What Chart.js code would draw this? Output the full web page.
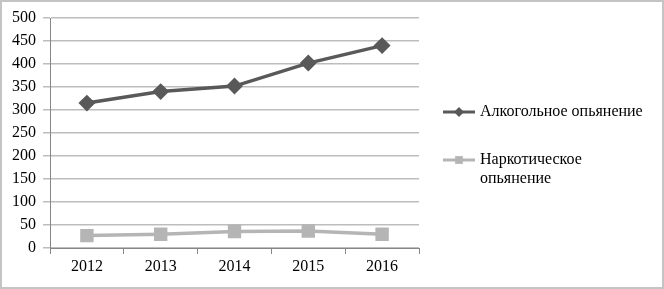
<!DOCTYPE html>
<html><head><meta charset="utf-8">
<script src="https://cdn.jsdelivr.net/npm/chart.js@4"></script>
<style>html,body{margin:0;padding:0;background:#fff}#wrap{width:664px;height:289px;position:relative}</style>
</head><body><div id="wrap"><canvas id="c" width="664" height="289"></canvas></div>
<script>
const years = ['2012','2013','2014','2015','2016'];
const alcohol = [315, 340, 352, 402, 440];
const drugs = [27, 30, 36, 37, 30];
const seriesNames = ['Алкогольное опьянение', ['Наркотическое', 'опьянение']];
const yTicks = {min: 0, max: 500, step: 50};

const legendPlugin = {
  id: 'customLegend',
  afterDraw(chart) {
    const ctx = chart.ctx;
    ctx.save();
    ctx.strokeStyle = '#c4c4c4';
    ctx.lineWidth = 2;
    ctx.strokeRect(1, 1, 662, 287);
    const items = [
      {y: 112, color: '#595959', style: 'rectRot', r: 5, text: [seriesNames[0]]},
      {y: 160, color: '#b5b5b5', style: 'rect', r: 5.5, text: seriesNames[1]}
    ];
    ctx.font = '16px "Liberation Serif", "Times New Roman", serif';
    ctx.textBaseline = 'middle';
    items.forEach(it => {
      ctx.strokeStyle = it.color;
      ctx.lineWidth = 3;
      ctx.beginPath(); ctx.moveTo(443, it.y); ctx.lineTo(475, it.y); ctx.stroke();
      ctx.fillStyle = it.color;
      Chart.helpers.drawPoint(ctx, {pointStyle: it.style, radius: it.r, borderWidth: 0}, 459, it.y);
      ctx.fillStyle = '#000';
      it.text.forEach((t, i) => ctx.fillText(t, 480, it.y + i * 19));
    });
    ctx.restore();
  }
};

new Chart(document.getElementById('c'), {
  type: 'line',
  data: {
    labels: years,
    datasets: [
      {label: 'Алкогольное опьянение', data: alcohol, borderColor: '#595959', backgroundColor: '#595959',
       borderWidth: 3.5, pointStyle: 'rectRot', pointRadius: 6, pointHoverRadius: 6, tension: 0},
      {label: 'Наркотическое опьянение', data: drugs, borderColor: '#b5b5b5', backgroundColor: '#b5b5b5',
       borderWidth: 3.5, pointStyle: 'rect', pointRadius: 7, pointHoverRadius: 7, tension: 0}
    ]
  },
  options: {
    responsive: false, animation: false,
    events: [],
    layout: {padding: {left: 0, top: 18, right: 245, bottom: 0}},
    plugins: {legend: {display: false}, tooltip: {enabled: false}},
    scales: {
      x: {
        offset: true,
        grid: {offset: true, drawOnChartArea: false, drawTicks: true, tickLength: 6, color: '#868686', lineWidth: 1},
        border: {color: '#868686', width: 1},
        ticks: {color: '#000', padding: 3, font: {family: '"Liberation Serif", "Times New Roman", serif', size: 16}},
        afterFit(s) { s.height = 41; }
      },
      y: {
        min: yTicks.min, max: yTicks.max,
        ticks: {stepSize: yTicks.step, color: '#000', padding: 7, font: {family: '"Liberation Serif", "Times New Roman", serif', size: 16}},
        grid: {color: '#bdbdbd', lineWidth: 1.5, tickLength: 7, drawTicks: true},
        border: {color: '#868686', width: 1},
        afterFit(s) { s.width = 50; }
      }
    }
  },
  plugins: [legendPlugin]
});
</script></body></html>
